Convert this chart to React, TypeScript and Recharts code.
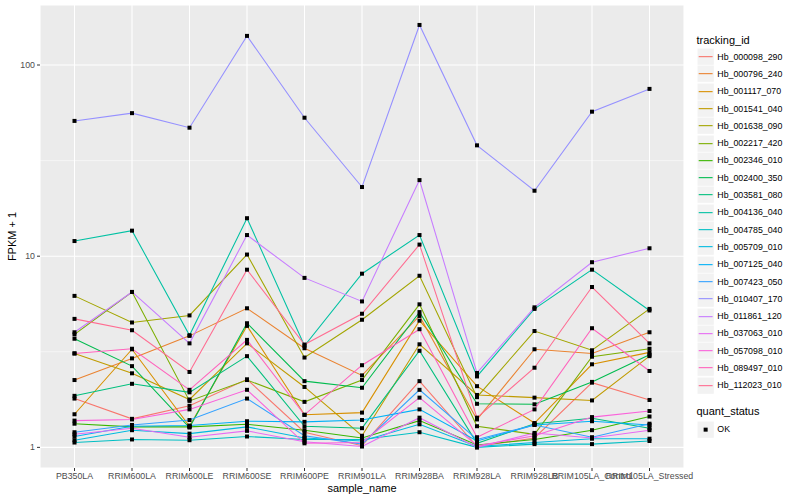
import { LineChart, Line, XAxis, YAxis, CartesianGrid } from 'recharts';

const sampleNames = [
  'PB350LA', 'RRIM600LA', 'RRIM600LE', 'RRIM600SE', 'RRIM600PE', 'RRIM901LA',
  'RRIM928BA', 'RRIM928LA', 'RRIM928LB', 'RRIM105LA_Control', 'RRIM105LA_Stressed',
];

const trackingIds = [
  'Hb_000098_290', 'Hb_000796_240', 'Hb_001117_070', 'Hb_001541_040', 'Hb_001638_090',
  'Hb_002217_420', 'Hb_002346_010', 'Hb_002400_350', 'Hb_003581_080', 'Hb_004136_040',
  'Hb_004785_040', 'Hb_005709_010', 'Hb_007125_040', 'Hb_007423_050', 'Hb_010407_170',
  'Hb_011861_120', 'Hb_037063_010', 'Hb_057098_010', 'Hb_089497_010', 'Hb_112023_010',
];

// ggplot hue palette, 20 levels
const hueColors = [
  '#F8766D', '#EA8331', '#D89000', '#C09B00', '#A3A500', '#7CAE00', '#39B600', '#00BB4E',
  '#00BF7D', '#00C1A3', '#00BFC4', '#00BAE0', '#00B0F6', '#35A2FF', '#9590FF', '#C77CFF',
  '#E76BF3', '#FA62DB', '#FF62BC', '#FF6C91',
];

// FPKM + 1, one array per gene, in sampleNames order
const hb000098_290 = [1.80, 1.41, 1.65, 2.27, 1.20, 1.02, 2.22, 1.01, 1.12, 2.18, 1.77];
const hb000796_240 = [2.25, 2.92, 3.83, 5.34, 3.3, 2.38, 4.87, 1.40, 3.26, 3.1, 4.0];
const hb001117_070 = [1.49, 3.26, 1.29, 4.32, 1.48, 1.52, 4.6, 2.09, 1.34, 2.72, 3.14];
const hb001541_040 = [3.1, 2.44, 1.78, 3.5, 2.07, 1.15, 3.46, 1.88, 1.82, 1.76, 3.0];
const hb001638_090 = [6.2, 4.5, 4.9, 10.2, 2.95, 4.65, 7.9, 1.83, 4.06, 3.22, 5.3];
const hb002217_420 = [3.9, 6.5, 1.75, 2.25, 1.73, 2.25, 5.6, 1.29, 1.17, 2.98, 3.28];
const hb002346_010 = [1.33, 1.28, 1.28, 1.32, 1.23, 1.12, 1.38, 1.03, 1.10, 1.23, 1.45];
const hb002400_350 = [3.7, 2.66, 1.27, 4.46, 2.22, 2.05, 5.1, 1.69, 1.68, 2.2, 3.05];
const hb003581_080 = [1.86, 2.15, 1.94, 3.0, 1.29, 1.26, 3.2, 1.05, 1.33, 1.42, 1.26];
const hb004136_040 = [12, 13.6, 3.86, 15.8, 3.4, 8.1, 12.9, 2.35, 5.3, 8.5, 5.2];
const hb004785_040 = [1.06, 1.10, 1.09, 1.14, 1.10, 1.10, 1.2, 1.0, 1.04, 1.04, 1.08];
const hb005709_010 = [1.09, 1.23, 1.18, 1.28, 1.12, 1.08, 1.32, 1.01, 1.06, 1.11, 1.11];
const hb007125_040 = [1.14, 1.29, 1.30, 1.37, 1.36, 1.39, 1.58, 1.08, 1.31, 1.37, 1.31];
const hb007423_050 = [1.20, 1.31, 1.39, 1.80, 1.15, 1.04, 2.0, 1.10, 1.31, 1.13, 1.33];
const hb010407_170 = [51, 56, 47, 142, 53, 23, 162, 38, 22, 57, 75];
const hb011861_120 = [4.0, 6.5, 3.5, 12.9, 7.7, 5.8, 25, 2.45, 5.4, 9.3, 11];
const hb037063_010 = [1.17, 1.26, 1.13, 1.22, 1.07, 1.01, 1.43, 1.0, 1.19, 1.12, 1.23];
const hb057098_010 = [1.38, 1.40, 1.58, 2.0, 1.05, 1.06, 1.82, 1.02, 1.15, 1.44, 1.55];
const hb089497_010 = [3.1, 3.28, 2.0, 3.65, 1.48, 2.69, 4.15, 1.13, 1.58, 4.2, 2.51];
const hb112023_010 = [4.7, 4.1, 2.48, 8.5, 3.45, 5.0, 11.5, 1.43, 2.61, 6.9, 3.5];

const seriesValues = [
  hb000098_290, hb000796_240, hb001117_070, hb001541_040, hb001638_090,
  hb002217_420, hb002346_010, hb002400_350, hb003581_080, hb004136_040,
  hb004785_040, hb005709_010, hb007125_040, hb007423_050, hb010407_170,
  hb011861_120, hb037063_010, hb057098_010, hb089497_010, hb112023_010,
];

const yTicks = [1, 10, 100];
const yMinorGrid = [3.1623, 31.623];

const data = sampleNames.map((name, i) => {
  const row: Record<string, any> = { sample: name };
  trackingIds.forEach((id, s) => {
    row[id] = seriesValues[s][i];
  });
  return row;
});

const FONT = '"Liberation Sans", Arial, Helvetica, sans-serif';

function SquareDot(props: any) {
  const { cx, cy, index, dataKey } = props;
  if (cx == null || cy == null) return <g key={`${dataKey}-${index}`} />;
  return <rect key={`${dataKey}-${index}`} x={cx - 2} y={cy - 2} width={4} height={4} fill="#000000" />;
}

function YTitle(props: any) {
  const vb = props.viewBox || { x: 0, y: 5, height: 463 };
  const cy = vb.y + vb.height / 2;
  return (
    <text x={12} y={cy} transform={`rotate(-90, 12, ${cy})`} textAnchor="middle" dominantBaseline="central"
      fontSize={11} fill="#000" fontFamily={FONT}>
      FPKM + 1
    </text>
  );
}

function LegendKey({ color, dot }: { color?: string; dot?: boolean }) {
  return (
    <svg width={17.3} height={17.3} style={{ display: 'block' }}>
      <rect x={0} y={0} width={17.3} height={17.3} fill="#F2F2F2" stroke="#FFFFFF" strokeWidth={1} />
      {color && <line x1={1.7} x2={15.6} y1={8.65} y2={8.65} stroke={color} strokeWidth={1.1} />}
      {dot && <rect x={6.65} y={6.65} width={4} height={4} fill="#000" />}
    </svg>
  );
}

function GgLegend() {
  return (
    <div style={{ position: 'absolute', left: 696.5, top: 0, fontFamily: FONT, color: '#000' }}>
      <div style={{ position: 'absolute', left: 0, top: 34, fontSize: 11, whiteSpace: 'nowrap' }}>tracking_id</div>
      {trackingIds.map((id, i) => (
        <div key={id} style={{ position: 'absolute', left: 0, top: 48 + i * 17.3, height: 17.3, display: 'flex', alignItems: 'center' }}>
          <LegendKey color={hueColors[i]} />
          <span style={{ marginLeft: 3.5, fontSize: 8.8, whiteSpace: 'nowrap' }}>{id}</span>
        </div>
      ))}
      <div style={{ position: 'absolute', left: 0, top: 405, fontSize: 11, whiteSpace: 'nowrap' }}>quant_status</div>
      <div style={{ position: 'absolute', left: 0, top: 420.5, height: 17.3, display: 'flex', alignItems: 'center' }}>
        <LegendKey dot />
        <span style={{ marginLeft: 3.5, fontSize: 8.8 }}>OK</span>
      </div>
    </div>
  );
}

export default function App() {
  return (
    <div style={{ position: 'absolute', left: 0, top: 0, width: 800, height: 500, background: '#FFFFFF', fontFamily: FONT }}>
      <LineChart width={800} height={500} data={data} margin={{ top: 5, right: 116, bottom: 0, left: 0 }}>
        <CartesianGrid fill="#EBEBEB" stroke="#FFFFFF" strokeWidth={1.07} />
        <CartesianGrid fill="none" stroke="#FFFFFF" strokeWidth={0.53} vertical={false} horizontalValues={yMinorGrid} />
        <XAxis
          dataKey="sample"
          type="category"
          scale="point"
          padding={{ left: 34.5, right: 34.5 }}
          height={32}
          interval={0}
          axisLine={false}
          tickSize={3}
          tickMargin={2}
          tickLine={{ stroke: '#333333' }}
          tick={{ fill: '#4D4D4D', fontSize: 8.8, fontFamily: FONT }}
          label={{ value: 'sample_name', position: 'insideBottom', offset: 8, fill: '#000', fontSize: 11, fontFamily: FONT }}
        />
        <YAxis
          type="number"
          scale="log"
          domain={[0.78, 206]}
          allowDataOverflow
          ticks={yTicks}
          width={40}
          axisLine={false}
          tickSize={3}
          tickMargin={2}
          tickLine={{ stroke: '#333333' }}
          tick={{ fill: '#4D4D4D', fontSize: 8.8, fontFamily: FONT }}
          label={<YTitle />}
        />
        {trackingIds.map((id, s) => (
          <Line
            key={id}
            type="linear"
            dataKey={id}
            stroke={hueColors[s]}
            strokeWidth={1.07}
            dot={<SquareDot />}
            activeDot={false}
            isAnimationActive={false}
          />
        ))}
      </LineChart>
      <GgLegend />
    </div>
  );
}
